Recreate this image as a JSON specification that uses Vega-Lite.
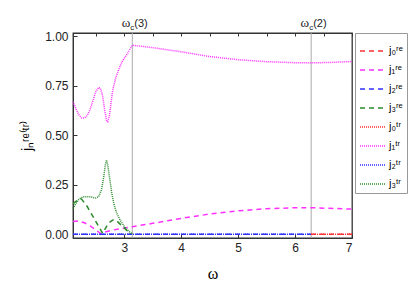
{
  "$schema": "https://vega.github.io/schema/vega-lite/v6.json",
  "width": 279,
  "height": 205,
  "autosize": {"type": "none"},
  "padding": {"left": 73, "top": 33, "right": 57, "bottom": 48},
  "config": {
    "view": {"stroke": "#333", "strokeWidth": 1.3},
    "font": "Liberation Sans"
  },
  "resolve": {"axis": {"x": "independent"}},
  "datasets": {
    "marks": [
      {"w": 3.1416, "n": "(3)"},
      {"w": 6.2832, "n": "(2)"}
    ],
    "curves": [
      {"s": "j₀ʳᵉ", "w": 6.28, "v": 0},
      {"s": "j₀ʳᵉ", "w": 7.0, "v": 0},

      {"s": "j₁ʳᵉ", "w": 2.1, "v": 0.064},
      {"s": "j₁ʳᵉ", "w": 2.2, "v": 0.067},
      {"s": "j₁ʳᵉ", "w": 2.3, "v": 0.058},
      {"s": "j₁ʳᵉ", "w": 2.4, "v": 0.042},
      {"s": "j₁ʳᵉ", "w": 2.5, "v": 0.022},
      {"s": "j₁ʳᵉ", "w": 2.58, "v": 0.004},
      {"s": "j₁ʳᵉ", "w": 2.62, "v": 0.008},
      {"s": "j₁ʳᵉ", "w": 2.75, "v": 0.018},
      {"s": "j₁ʳᵉ", "w": 2.9, "v": 0.027},
      {"s": "j₁ʳᵉ", "w": 3.14, "v": 0.038},
      {"s": "j₁ʳᵉ", "w": 3.5, "v": 0.055},
      {"s": "j₁ʳᵉ", "w": 4.0, "v": 0.08},
      {"s": "j₁ʳᵉ", "w": 4.5, "v": 0.102},
      {"s": "j₁ʳᵉ", "w": 5.0, "v": 0.118},
      {"s": "j₁ʳᵉ", "w": 5.5, "v": 0.129},
      {"s": "j₁ʳᵉ", "w": 6.0, "v": 0.134},
      {"s": "j₁ʳᵉ", "w": 6.28, "v": 0.134},
      {"s": "j₁ʳᵉ", "w": 6.6, "v": 0.131},
      {"s": "j₁ʳᵉ", "w": 7.0, "v": 0.127},

      {"s": "j₂ʳᵉ", "w": 2.1, "v": 0},
      {"s": "j₂ʳᵉ", "w": 6.28, "v": 0},

      {"s": "j₃ʳᵉ", "w": 2.1, "v": 0.155},
      {"s": "j₃ʳᵉ", "w": 2.18, "v": 0.172},
      {"s": "j₃ʳᵉ", "w": 2.25, "v": 0.178},
      {"s": "j₃ʳᵉ", "w": 2.35, "v": 0.14},
      {"s": "j₃ʳᵉ", "w": 2.45, "v": 0.09},
      {"s": "j₃ʳᵉ", "w": 2.55, "v": 0.04},
      {"s": "j₃ʳᵉ", "w": 2.62, "v": 0.005},
      {"s": "j₃ʳᵉ", "w": 2.65, "v": 0.02},
      {"s": "j₃ʳᵉ", "w": 2.72, "v": 0.055},
      {"s": "j₃ʳᵉ", "w": 2.8, "v": 0.072},
      {"s": "j₃ʳᵉ", "w": 2.86, "v": 0.07},
      {"s": "j₃ʳᵉ", "w": 2.95, "v": 0.045},
      {"s": "j₃ʳᵉ", "w": 3.05, "v": 0.018},
      {"s": "j₃ʳᵉ", "w": 3.14, "v": 0.0},

      {"s": "j₀ᵗʳ", "w": 6.28, "v": 0},
      {"s": "j₀ᵗʳ", "w": 7.0, "v": 0},

      {"s": "j₁ᵗʳ", "w": 2.1, "v": 0.67},
      {"s": "j₁ᵗʳ", "w": 2.15, "v": 0.635},
      {"s": "j₁ᵗʳ", "w": 2.2, "v": 0.605},
      {"s": "j₁ᵗʳ", "w": 2.25, "v": 0.588},
      {"s": "j₁ᵗʳ", "w": 2.3, "v": 0.587},
      {"s": "j₁ᵗʳ", "w": 2.35, "v": 0.6},
      {"s": "j₁ᵗʳ", "w": 2.4, "v": 0.63},
      {"s": "j₁ᵗʳ", "w": 2.45, "v": 0.675},
      {"s": "j₁ᵗʳ", "w": 2.5, "v": 0.72},
      {"s": "j₁ᵗʳ", "w": 2.55, "v": 0.742},
      {"s": "j₁ᵗʳ", "w": 2.58, "v": 0.738},
      {"s": "j₁ᵗʳ", "w": 2.62, "v": 0.7},
      {"s": "j₁ᵗʳ", "w": 2.66, "v": 0.62},
      {"s": "j₁ᵗʳ", "w": 2.69, "v": 0.575},
      {"s": "j₁ᵗʳ", "w": 2.71, "v": 0.569},
      {"s": "j₁ᵗʳ", "w": 2.74, "v": 0.6},
      {"s": "j₁ᵗʳ", "w": 2.77, "v": 0.67},
      {"s": "j₁ᵗʳ", "w": 2.8, "v": 0.73},
      {"s": "j₁ᵗʳ", "w": 2.85, "v": 0.79},
      {"s": "j₁ᵗʳ", "w": 2.9, "v": 0.83},
      {"s": "j₁ᵗʳ", "w": 2.95, "v": 0.865},
      {"s": "j₁ᵗʳ", "w": 3.0, "v": 0.89},
      {"s": "j₁ᵗʳ", "w": 3.05, "v": 0.91},
      {"s": "j₁ᵗʳ", "w": 3.1, "v": 0.935},
      {"s": "j₁ᵗʳ", "w": 3.14, "v": 0.955},
      {"s": "j₁ᵗʳ", "w": 3.3, "v": 0.95},
      {"s": "j₁ᵗʳ", "w": 3.5, "v": 0.943},
      {"s": "j₁ᵗʳ", "w": 4.0, "v": 0.922},
      {"s": "j₁ᵗʳ", "w": 4.5, "v": 0.898},
      {"s": "j₁ᵗʳ", "w": 5.0, "v": 0.882},
      {"s": "j₁ᵗʳ", "w": 5.5, "v": 0.872},
      {"s": "j₁ᵗʳ", "w": 6.0, "v": 0.867},
      {"s": "j₁ᵗʳ", "w": 6.28, "v": 0.866},
      {"s": "j₁ᵗʳ", "w": 6.6, "v": 0.868},
      {"s": "j₁ᵗʳ", "w": 7.0, "v": 0.873},

      {"s": "j₂ᵗʳ", "w": 2.1, "v": 0},
      {"s": "j₂ᵗʳ", "w": 6.28, "v": 0},

      {"s": "j₃ᵗʳ", "w": 2.1, "v": 0.13},
      {"s": "j₃ᵗʳ", "w": 2.15, "v": 0.155},
      {"s": "j₃ᵗʳ", "w": 2.2, "v": 0.175},
      {"s": "j₃ᵗʳ", "w": 2.25, "v": 0.185},
      {"s": "j₃ᵗʳ", "w": 2.3, "v": 0.19},
      {"s": "j₃ᵗʳ", "w": 2.4, "v": 0.19},
      {"s": "j₃ᵗʳ", "w": 2.5, "v": 0.183},
      {"s": "j₃ᵗʳ", "w": 2.55, "v": 0.19},
      {"s": "j₃ᵗʳ", "w": 2.6, "v": 0.225},
      {"s": "j₃ᵗʳ", "w": 2.64, "v": 0.29},
      {"s": "j₃ᵗʳ", "w": 2.67, "v": 0.355},
      {"s": "j₃ᵗʳ", "w": 2.69, "v": 0.375},
      {"s": "j₃ᵗʳ", "w": 2.71, "v": 0.35},
      {"s": "j₃ᵗʳ", "w": 2.74, "v": 0.29},
      {"s": "j₃ᵗʳ", "w": 2.78, "v": 0.21},
      {"s": "j₃ᵗʳ", "w": 2.82, "v": 0.15},
      {"s": "j₃ᵗʳ", "w": 2.87, "v": 0.105},
      {"s": "j₃ᵗʳ", "w": 2.93, "v": 0.07},
      {"s": "j₃ᵗʳ", "w": 3.0, "v": 0.04},
      {"s": "j₃ᵗʳ", "w": 3.07, "v": 0.018},
      {"s": "j₃ᵗʳ", "w": 3.14, "v": 0.0}
    ]
  },
  "layer": [
    {
      "data": {"name": "marks"},
      "mark": {"type": "rule", "color": "#aaa", "strokeWidth": 1},
      "encoding": {
        "x": {
          "field": "w",
          "type": "quantitative",
          "scale": {"domain": [2.1, 7], "nice": false, "zero": false},
          "axis": {
            "orient": "top",
            "values": [2.5, 3, 3.5, 4, 4.5, 5, 5.5, 6, 6.5, 7],
            "labels": false,
            "title": null,
            "tickSize": -3,
            "domainColor": "#333",
            "tickColor": "#333",
            "grid": false
          }
        }
      }
    },
    {
      "data": {"name": "curves"},
      "mark": {"type": "line", "strokeWidth": 1.5},
      "encoding": {
        "x": {
          "field": "w",
          "type": "quantitative",
          "scale": {"domain": [2.1, 7], "nice": false, "zero": false},
          "axis": {
            "values": [3, 4, 5, 6, 7],
            "title": "ω",
            "titleFont": "Liberation Serif",
            "titleFontSize": 16,
            "titleFontWeight": "normal",
            "titlePadding": 12,
            "labelFontSize": 12,
            "labelColor": "#222",
            "tickSize": -4,
            "labelPadding": 8,
            "domainColor": "#333",
            "tickColor": "#333",
            "grid": false
          }
        },
        "y": {
          "field": "v",
          "type": "quantitative",
          "scale": {"domain": [-0.019, 1.017], "nice": false, "zero": false},
          "axis": {
            "values": [0, 0.25, 0.5, 0.75, 1],
            "format": ".2f",
            "title": "jₙʳᵉ⁽ᵗʳ⁾",
            "titleFontSize": 14,
            "titleFontWeight": "normal",
            "titlePadding": 10,
            "labelFontSize": 12,
            "labelColor": "#222",
            "tickSize": -4,
            "labelPadding": 9,
            "domainColor": "#333",
            "tickColor": "#333",
            "grid": false
          }
        },
        "color": {
          "field": "s",
          "type": "nominal",
          "scale": {
            "domain": ["j₀ʳᵉ", "j₁ʳᵉ", "j₂ʳᵉ", "j₃ʳᵉ", "j₀ᵗʳ", "j₁ᵗʳ", "j₂ᵗʳ", "j₃ᵗʳ"],
            "range": ["#ff3030", "#ff30ff", "#3030ff", "#2a8a2a", "#ff3030", "#ff30ff", "#3030ff", "#2a8a2a"]
          },
          "legend": {
            "title": null,
            "orient": "right",
            "offset": 0,
            "strokeColor": "#999",
            "padding": 4,
            "symbolType": "stroke",
            "symbolSize": 676,
            "symbolStrokeWidth": 1.5,
            "labelFontSize": 11,
            "labelOffset": 2,
            "rowPadding": -5
          }
        },
        "strokeDash": {
          "field": "s",
          "type": "nominal",
          "scale": {
            "domain": ["j₀ʳᵉ", "j₁ʳᵉ", "j₂ʳᵉ", "j₃ʳᵉ", "j₀ᵗʳ", "j₁ᵗʳ", "j₂ᵗʳ", "j₃ᵗʳ"],
            "range": [[5, 4], [5, 4], [5, 4], [5, 4], [1, 1], [1, 1], [1, 1], [1, 1]]
          },
          "legend": {
            "title": null,
            "orient": "right",
            "offset": 0,
            "strokeColor": "#999",
            "padding": 4,
            "symbolType": "stroke",
            "symbolSize": 676,
            "symbolStrokeWidth": 1.5,
            "labelFontSize": 11,
            "labelOffset": 2,
            "rowPadding": -5
          }
        }
      }
    },
    {
      "data": {"name": "marks"},
      "mark": {"type": "text", "text": "ω", "align": "right", "baseline": "alphabetic", "dx": -2, "dy": -6, "fontSize": 13, "font": "Liberation Serif", "color": "#222"},
      "encoding": {
        "x": {"field": "w", "type": "quantitative", "axis": null},
        "y": {"datum": 1.017, "type": "quantitative"}
      }
    },
    {
      "data": {"name": "marks"},
      "mark": {"type": "text", "text": "c", "align": "center", "baseline": "alphabetic", "dx": 0, "dy": -3, "fontSize": 8, "color": "#222"},
      "encoding": {
        "x": {"field": "w", "type": "quantitative", "axis": null},
        "y": {"datum": 1.017, "type": "quantitative"}
      }
    },
    {
      "data": {"name": "marks"},
      "mark": {"type": "text", "align": "left", "baseline": "alphabetic", "dx": 2, "dy": -6, "fontSize": 11, "color": "#222"},
      "encoding": {
        "x": {"field": "w", "type": "quantitative", "axis": null},
        "y": {"datum": 1.017, "type": "quantitative"},
        "text": {"field": "n", "type": "nominal"}
      }
    }
  ]
}
